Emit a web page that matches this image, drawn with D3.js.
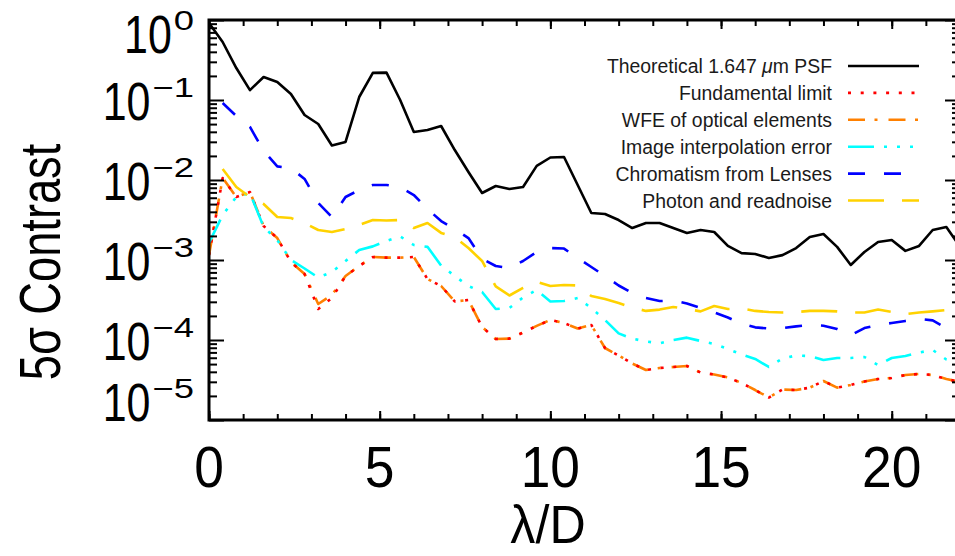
<!DOCTYPE html>
<html><head><meta charset="utf-8">
<script src="https://cdn.jsdelivr.net/npm/d3@7"></script>
<style>body{margin:0;background:#fff}svg{display:block;font-family:"Liberation Sans",Arial,sans-serif}</style>
</head><body><svg id="c" width="955" height="556"></svg>
<script>
// ---- data ----
const lambdaD = [0,0.4,0.8,1.2,1.6,2.0,2.4,2.8,3.2,3.6,4.0,4.4,4.8,5.2,5.6,6.0,6.4,6.8,7.2,7.6,8.0,8.4,8.8,9.2,9.6,10.0,10.4,10.8,11.2,11.6,12.0,12.4,12.8,13.2,13.6,14.0,14.4,14.8,15.2,15.6,16.0,16.4,16.8,17.2,17.6,18.0,18.4,18.8,19.2,19.6,20.0,20.4,20.8,21.2,21.6,22.0];
const psf = [0.917,0.531,0.251,0.133,0.194,0.168,0.119,0.0649,0.0501,0.0270,0.0299,0.109,0.218,0.220,0.100,0.0398,0.0422,0.0473,0.0237,0.0126,0.00688,0.00841,0.00772,0.00818,0.0150,0.0191,0.0194,0.00866,0.00387,0.00376,0.00316,0.00251,0.00290,0.00290,0.00251,0.00218,0.00237,0.00224,0.00150,0.00122,0.00119,0.00106,0.00115,0.00141,0.00194,0.00211,0.00146,0.000866,0.00126,0.00168,0.00178,0.00130,0.00150,0.00237,0.00259,0.00146];
const fundamental = [0.00115,0.0106,0.00613,0.00708,0.00266,0.00188,0.000944,0.000668,0.000244,0.000335,0.000631,0.000841,0.00109,0.00107,0.00107,0.00109,0.000579,0.000473,0.000303,0.000316,0.000146,0.000103,0.000104,0.000124,0.000150,0.000178,0.000163,0.000139,0.000154,0.0000794,0.0000640,0.0000508,0.0000422,0.0000447,0.0000460,0.0000473,0.0000392,0.0000370,0.0000340,0.0000290,0.0000237,0.0000191,0.0000240,0.0000237,0.0000254,0.0000307,0.0000254,0.0000274,0.0000303,0.0000325,0.0000335,0.0000365,0.0000376,0.0000365,0.0000325,0.0000299];
const wfe = [0.00115,0.0106,0.00613,0.00708,0.00266,0.00188,0.000944,0.000668,0.000282,0.000365,0.000631,0.000841,0.00109,0.00107,0.00107,0.00109,0.000579,0.000473,0.000303,0.000316,0.000146,0.000103,0.000104,0.000124,0.000150,0.000178,0.000163,0.000139,0.000154,0.0000794,0.0000640,0.0000508,0.0000422,0.0000447,0.0000460,0.0000473,0.0000392,0.0000370,0.0000340,0.0000290,0.0000237,0.0000191,0.0000240,0.0000237,0.0000254,0.0000307,0.0000254,0.0000274,0.0000303,0.0000325,0.0000335,0.0000365,0.0000376,0.0000365,0.0000325,0.0000299];
const interp = [0.00163,0.00365,0.00613,0.00688,0.00259,0.00178,0.00100,0.000783,0.000604,0.000708,0.000972,0.00133,0.00148,0.00173,0.00197,0.00154,0.00146,0.000853,0.000631,0.000473,0.000398,0.000244,0.000251,0.000340,0.000422,0.000303,0.000307,0.000335,0.000251,0.000178,0.000121,0.000104,0.0000958,0.0000910,0.000100,0.000107,0.0000972,0.0000891,0.0000772,0.0000659,0.0000579,0.0000460,0.0000587,0.0000640,0.0000631,0.0000562,0.0000596,0.0000596,0.0000613,0.0000487,0.0000596,0.0000631,0.0000698,0.0000750,0.0000571,0.0000516];
const chromatism = [null,0.0917,0.0631,0.0460,0.0231,0.0148,0.0141,0.0103,0.00516,0.00345,0.00613,0.00750,0.00866,0.00866,0.00818,0.00649,0.00434,0.00307,0.00244,0.00188,0.00104,0.000841,0.000794,0.000972,0.00126,0.00141,0.00139,0.00106,0.000818,0.000631,0.000480,0.000387,0.000335,0.000307,0.000311,0.000286,0.000251,0.000221,0.000191,0.000160,0.000144,0.000139,0.000141,0.000148,0.000154,0.000151,0.000137,0.000115,0.000141,0.000154,0.000163,0.000173,0.000183,0.000176,0.000141,0.000109];
const photon = [null,0.0137,0.00818,0.00613,0.00501,0.00345,0.00335,0.00290,0.00237,0.00224,0.00244,0.00274,0.00316,0.00312,0.00316,0.00251,0.00290,0.00218,0.00194,0.00141,0.000972,0.000467,0.000360,0.000447,0.000535,0.000473,0.000487,0.000480,0.000355,0.000325,0.000290,0.000254,0.000231,0.000240,0.000259,0.000244,0.000228,0.000266,0.000244,0.000247,0.000231,0.000224,0.000221,0.000224,0.000231,0.000231,0.000228,0.000221,0.000221,0.000240,0.000224,0.000211,0.000221,0.000228,0.000237,0.000205];

const seriesNames = ["Theoretical 1.647 \u03bcm PSF","Fundamental limit","WFE of optical elements","Image interpolation error","Chromatism from Lenses","Photon and readnoise"];
const seriesValues = [psf, fundamental, wfe, interp, chromatism, photon];
const seriesColors = ["#000000","#ff0000","#ff8000","#00ffff","#0000ff","#ffd200"];
const seriesDash = ["none","3,9.7","17,9.5,3,11","26,10,3,10,3,10,3,10","17,19","36,18"];
const xTickLabels = [0,5,10,15,20];
const yTickExps = [0,-1,-2,-3,-4,-5];

// ---- chart ----
const svg = d3.select("#c");
const x = d3.scaleLinear().domain([0,22]).range([209,960]);
const y = d3.scaleLog().domain([1e-5,1]).range([420,20]);

svg.append("defs").append("clipPath").attr("id","pc")
  .append("rect").attr("x",209).attr("y",20).attr("width",751).attr("height",400);

const plot = svg.append("g").attr("clip-path","url(#pc)");
const drawOrder = [0,2,1,3,4,5];
drawOrder.forEach(i => {
  const pts = lambdaD.map((v,j)=>[v, seriesValues[i][j]]);
  const line = d3.line().defined(d=>d[1]!=null).x(d=>x(d[0])).y(d=>y(d[1]));
  plot.append("path").attr("d", line(pts)).attr("fill","none")
    .attr("stroke", seriesColors[i]).attr("stroke-width",2.6)
    .attr("stroke-linejoin","round")
    .attr("stroke-dasharray", seriesDash[i]);
});

// axes ticks
const yMajor = yTickExps.map(e=>Math.pow(10,e));
const yMinor = [];
for (let e=-5;e<0;e++) for (let k=2;k<10;k++) yMinor.push(k*Math.pow(10,e));
const xMinor = d3.range(0,23,1);

function styleAx(g){ g.select(".domain").remove(); g.selectAll("line").attr("stroke","#000").attr("stroke-width",2); }
svg.append("g").attr("transform","translate(209,0)").call(d3.axisLeft(y).tickValues(yMajor).tickSize(-15).tickFormat("")).call(styleAx);
svg.append("g").attr("transform","translate(209,0)").call(d3.axisLeft(y).tickValues(yMinor).tickSize(-8).tickFormat("")).call(styleAx);
svg.append("g").attr("transform","translate(960,0)").call(d3.axisRight(y).tickValues(yMajor).tickSize(-15).tickFormat("")).call(styleAx);
svg.append("g").attr("transform","translate(960,0)").call(d3.axisRight(y).tickValues(yMinor).tickSize(-8).tickFormat("")).call(styleAx);
svg.append("g").attr("transform","translate(0,420)").call(d3.axisBottom(x).tickValues(xTickLabels).tickSize(-9).tickFormat("")).call(styleAx);
svg.append("g").attr("transform","translate(0,420)").call(d3.axisBottom(x).tickValues(xMinor).tickSize(-6).tickFormat("")).call(styleAx);
svg.append("g").attr("transform","translate(0,20)").call(d3.axisTop(x).tickValues(xTickLabels).tickSize(-9).tickFormat("")).call(styleAx);
svg.append("g").attr("transform","translate(0,20)").call(d3.axisTop(x).tickValues(xMinor).tickSize(-6).tickFormat("")).call(styleAx);

// frame
svg.append("rect").attr("x",209).attr("y",20).attr("width",751).attr("height",400)
  .attr("fill","none").attr("stroke","#000").attr("stroke-width",3);

// y tick labels: superscript right-aligned at 194, base "10" just left of it
yTickExps.forEach(e=>{
  const cy = Math.max(34, Math.min(402, y(Math.pow(10,e))+1));
  const sg = svg.append("g").attr("transform",`translate(194,${cy-4}) scale(1.3,1)`);
  const st = sg.append("text").attr("text-anchor","end").attr("font-size",28).attr("fill","#000")
    .text(e===0?"0":"\u2212"+(-e));
  const sw = st.node().getComputedTextLength()*1.3;
  svg.append("g").attr("transform",`translate(${194-sw-2},${cy+19}) scale(0.81,1)`)
    .append("text").attr("text-anchor","end").attr("font-size",53).attr("fill","#000").text("10");
});

// x tick labels
xTickLabels.forEach(v=>{
  svg.append("g").attr("transform",`translate(${x(v)},487) scale(0.92,1)`)
    .append("text").attr("text-anchor","middle").attr("font-size",58).attr("fill","#000").text(v);
});

// axis titles
svg.append("g").attr("transform","translate(60,262) rotate(-90) scale(0.78,1)")
  .append("text").attr("text-anchor","middle").attr("font-size",58).attr("fill","#000").text("5\u03c3 Contrast");
svg.append("g").attr("transform","translate(548,543) scale(0.93,1)")
  .append("text").attr("text-anchor","middle").attr("font-size",54).attr("fill","#000").text("\u03bb/D");

// legend
const leg = svg.append("g");
seriesNames.forEach((n,i)=>{
  const cy = 66 + i*26.9;
  const t = leg.append("text").attr("x",832).attr("y",cy+7).attr("text-anchor","end")
    .attr("font-size",19.4).attr("fill","#1a1a1a");
  if (i===0){
    t.append("tspan").text("Theoretical 1.647 ");
    t.append("tspan").attr("font-style","italic").text("\u03bc");
    t.append("tspan").text("m PSF");
  } else t.text(n);
  leg.append("line").attr("x1",848).attr("x2",919).attr("y1",cy).attr("y2",cy)
    .attr("stroke",seriesColors[i]).attr("stroke-width",2.6).attr("stroke-dasharray",seriesDash[i]);
});
</script>
</body></html>
